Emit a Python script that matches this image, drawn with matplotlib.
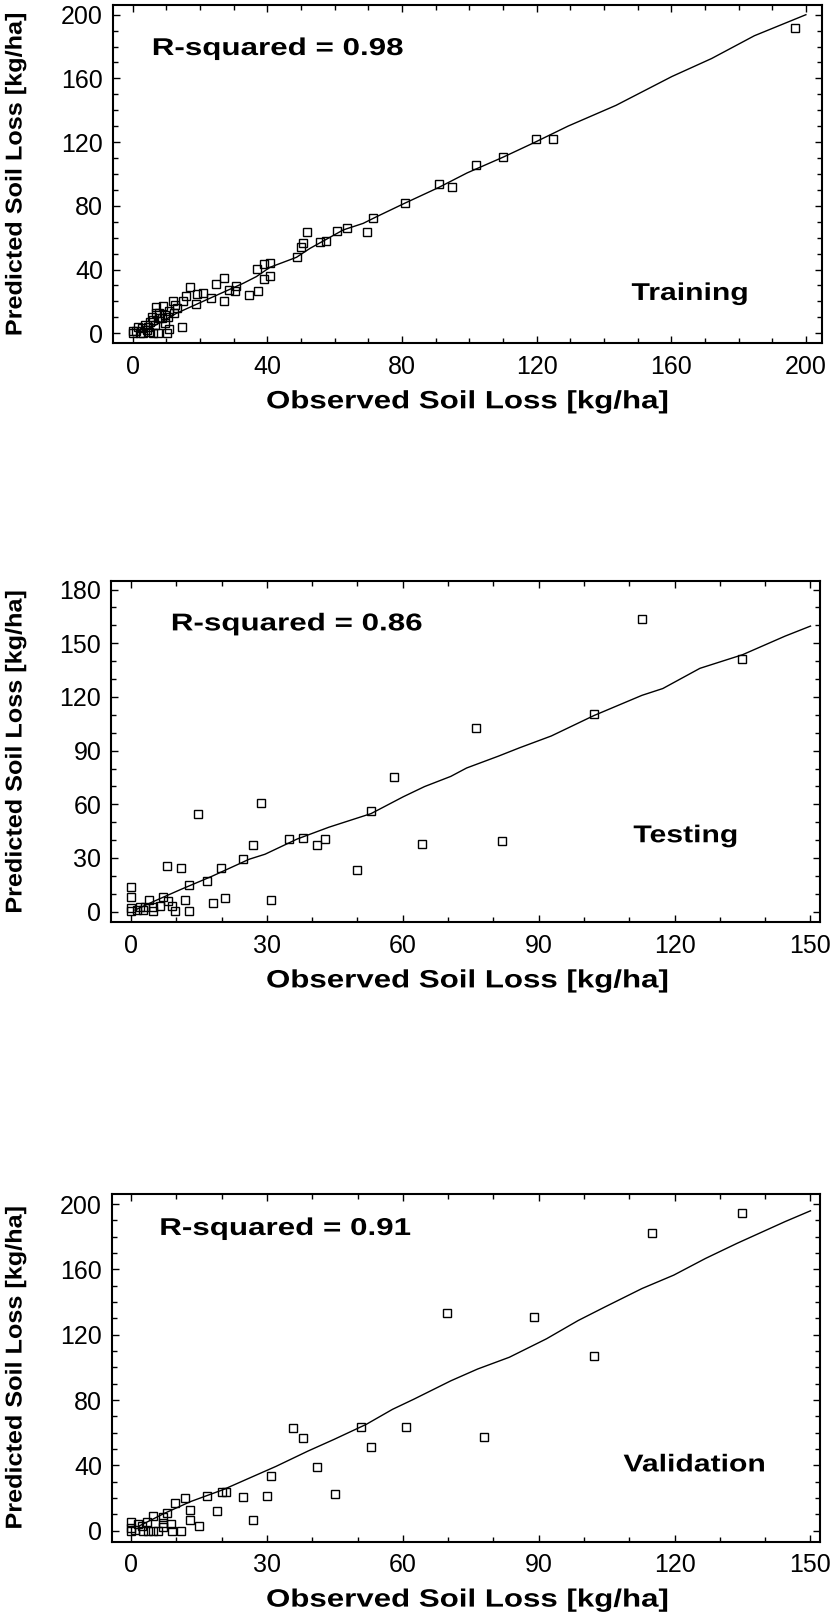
import matplotlib
matplotlib.use("Agg")
import matplotlib.pyplot as plt
from matplotlib.ticker import MultipleLocator
from matplotlib.patheffects import AbstractPathEffect
from matplotlib.transforms import Affine2D

# ---------------- data ----------------
# Training set: observed vs predicted soil loss [kg/ha]
train_obs = [196.8, 125.0, 119.7, 109.9, 102.1, 95.0, 90.9, 81.0, 71.5, 69.7,
             63.6, 60.6, 57.6, 55.6, 51.9, 50.7, 50.0, 48.9, 40.8, 39.0,
             37.0, 40.8, 39.0, 37.3, 34.7, 30.7, 30.4, 28.6, 27.2, 24.8,
             27.1, 23.2, 20.8, 19.2, 17.0, 18.8, 16.0, 14.9, 14.8, 13.1,
             11.9, 12.6, 10.9, 10.6, 10.9, 10.3, 8.9, 7.9, 7.1, 7.1,
             6.1, 5.1, 4.7, 7.6, 6.1, 2.7, 1.7, 1.0, 0.0, 0.0,
             3.7, 5.0, 3.2, 8.6, 9.5, 7.9, 5.9, 9.7, 2.2, 12.2,
             4.2, 6.6]
train_pred = [191.6, 122.1, 122.1, 110.8, 105.6, 91.9, 94.0, 81.6, 72.2, 63.8,
              66.3, 64.4, 57.9, 57.1, 63.4, 56.9, 54.0, 47.7, 43.9, 43.3,
              40.2, 36.2, 33.9, 26.6, 24.1, 29.7, 26.6, 27.2, 34.5, 31.0,
              20.5, 22.4, 25.1, 24.5, 28.9, 18.4, 23.4, 20.5, 3.8, 15.7,
              20.5, 17.8, 14.2, 10.5, 2.5, 0.0, 17.2, 13.0, 16.7, 12.6,
              8.4, 7.3, 4.2, 0.0, 0.0, 3.1, 4.2, 1.7, 0.0, 1.7,
              5.2, 1.0, 0.4, 9.4, 11.5, 9.4, 10.0, 6.3, 0.0, 12.9,
              2.0, 5.5]
train_fit_x = [5.1, 13.1, 23.0, 32.9, 36.8, 40.8, 48.7, 52.7, 62.6, 68.5, 72.5,
               80.4, 90.9, 99.4, 110.0, 119.2, 129.4, 143.6, 160.2, 172.0,
               184.7, 200.0]
train_fit_y = [3.1, 12.6, 22.0, 31.4, 35.6, 41.4, 47.7, 53.3, 64.9, 69.0, 73.2,
               81.2, 91.5, 100.7, 110.5, 119.6, 130.1, 143.1, 161.2, 172.5,
               186.8, 200.0]

# Testing set
test_obs = [112.8, 134.8, 102.2, 76.1, 58.0, 64.2, 81.9, 28.7, 14.9, 53.0,
            34.9, 37.9, 41.0, 42.9, 27.0, 24.8, 49.9, 8.0, 11.0, 19.9,
            16.9, 12.8, 0.0, 0.0, 7.1, 4.0, 12.0, 20.8, 30.9, 18.2,
            8.2, 9.0, 12.8, 9.7, 4.9, 6.4, 4.9, 3.2, 2.0, 1.3,
            0.0, 0.0, 2.7]
test_pred = [163.8, 141.1, 110.7, 102.9, 75.0, 37.8, 39.5, 60.6, 54.6, 56.5,
             40.4, 41.3, 37.4, 40.4, 37.0, 29.6, 23.1, 25.6, 24.6, 24.6,
             17.2, 14.8, 13.9, 8.0, 8.3, 6.5, 6.5, 7.4, 6.5, 5.0,
             5.9, 3.1, 0.5, 0.5, 0.5, 3.1, 2.8, 2.8, 2.4, 0.9,
             1.9, 0.5, 0.9]
test_fit_x = [0.9, 5.0, 10.9, 17.9, 26.1, 29.6, 36.7, 43.7, 53.0, 60.1, 64.8,
              70.6, 74.1, 81.1, 85.8, 92.8, 102.2, 112.8, 117.4, 125.6, 135.0,
              144.4, 150.0]
test_fit_y = [0.9, 5.7, 12.3, 19.8, 29.3, 32.1, 40.6, 47.2, 54.8, 64.2, 69.9,
              75.6, 80.3, 86.9, 91.6, 98.2, 109.6, 120.9, 124.7, 136.0, 143.6,
              154.0, 159.6]

# Validation set
valid_obs = [134.8, 114.9, 69.8, 88.9, 102.2, 77.9, 35.7, 37.9, 50.7, 60.7,
             53.0, 41.0, 30.9, 45.1, 30.0, 24.8, 16.7, 20.0, 20.9, 11.9,
             9.7, 18.9, 12.9, 27.0, 12.9, 15.0, 7.9, 4.9, 7.1, 3.6,
             7.1, 8.8, 9.0, 11.0, 0.0, 1.6, 2.4, 0.0, 0.0, 2.7,
             3.8, 4.9, 6.0, 0.9, 7.1]
valid_pred = [194.5, 182.3, 133.3, 130.6, 107.2, 57.3, 62.7, 56.9, 63.7, 63.7,
              51.4, 39.2, 33.5, 22.4, 21.4, 20.4, 21.4, 23.5, 23.5, 19.8,
              16.7, 12.2, 12.7, 6.5, 6.5, 2.9, 11.0, 9.2, 8.2, 5.5,
              4.5, 4.1, 0.0, 0.0, 5.5, 4.1, 2.9, 1.4, 0.0, 0.0,
              0.0, 0.0, 0.0, 0.4, 2.4]
valid_fit_x = [1.5, 7.4, 13.2, 20.3, 26.1, 32.0, 39.0, 44.8, 51.9, 57.7, 62.4,
               70.6, 76.5, 83.5, 91.7, 98.7, 104.6, 112.8, 119.8, 126.8, 133.8,
               144.4, 150.0]
valid_fit_y = [2.5, 10.7, 17.9, 25.1, 32.2, 39.4, 48.7, 55.9, 65.1, 74.3, 80.5,
               91.8, 99.0, 106.2, 117.5, 128.7, 137.0, 148.3, 156.5, 166.7, 176.0,
               189.3, 195.9]

panel_names = ["Training", "Testing", "Validation"]
r_squared = ["0.98", "0.86", "0.91"]
x_label = "Observed Soil Loss [kg/ha]"
y_label = "Predicted Soil Loss [kg/ha]"


# ---------------- styling helpers ----------------
class Widen(AbstractPathEffect):
    """Draw text glyphs stretched along the reading direction."""

    def __init__(self, factor):
        super().__init__()
        self._factor = factor

    def draw_path(self, renderer, gc, tpath, affine, rgbFace=None):
        renderer.draw_path(gc, tpath,
                           Affine2D().scale(self._factor, 1.0) + affine,
                           rgbFace)


plt.rcParams["font.family"] = ["Liberation Sans", "DejaVu Sans"]

W, H = 830, 1614
fig = plt.figure(figsize=(W / 100, H / 100), dpi=100)
fig.patch.set_facecolor("white")


def px_rect(left, top, right, bottom):
    return [left / W, 1 - bottom / H, (right - left) / W, (bottom - top) / H]


panels = [
    dict(rect=px_rect(112.7, 5.0, 821.7, 343.3), xlim=(-5.9, 204.7),
         ylim=(-6.3, 206.1), xmaj=40, ymaj=40,
         obs=train_obs, pred=train_pred, fx=train_fit_x, fy=train_fit_y,
         r2_at=(5.7, 174.7), name_at=(148.2, 20.9),
         xlab_base=408.3),
    dict(rect=px_rect(111.0, 581.0, 820.0, 922.4), xlim=(-4.4, 152.1),
         ylim=(-6.0, 184.8), xmaj=30, ymaj=30,
         obs=test_obs, pred=test_pred, fx=test_fit_x, fy=test_fit_y,
         r2_at=(8.8, 157.2), name_at=(110.9, 38.8),
         xlab_base=987.4),
    dict(rect=px_rect(111.7, 1193.5, 820.0, 1541.6), xlim=(-4.3, 152.1),
         ylim=(-6.7, 206.5), xmaj=30, ymaj=40,
         obs=valid_obs, pred=valid_pred, fx=valid_fit_x, fy=valid_fit_y,
         r2_at=(6.2, 181.1), name_at=(108.7, 36.3),
         xlab_base=1606.6),
]

for i, p in enumerate(panels):
    ax = fig.add_axes(p["rect"])
    ax.set_facecolor("white")
    ax.plot(p["fx"], p["fy"], color="black", lw=1.0, zorder=2)
    ax.plot(p["obs"], p["pred"], linestyle="none", marker="s", ms=6,
            mfc="none", mec="black", mew=1.0, zorder=3)
    ax.set_xlim(*p["xlim"])
    ax.set_ylim(*p["ylim"])
    ax.xaxis.set_major_locator(MultipleLocator(p["xmaj"]))
    ax.yaxis.set_major_locator(MultipleLocator(p["ymaj"]))
    ax.xaxis.set_minor_locator(MultipleLocator(10))
    ax.yaxis.set_minor_locator(MultipleLocator(10))
    ax.tick_params(which="both", direction="in", top=True, right=True,
                   width=1.0, color="black")
    ax.tick_params(which="major", length=5)
    ax.tick_params(which="minor", length=3.5)
    ax.tick_params(axis="x", which="major", labelsize=18, pad=8.5)
    ax.tick_params(axis="y", which="major", labelsize=18, pad=7)
    for s in ax.spines.values():
        s.set_linewidth(1.5)

    ax.text(p["r2_at"][0], p["r2_at"][1], "R-squared = " + r_squared[i],
            ha="left", va="baseline", fontsize=17.5, fontweight="bold",
            path_effects=[Widen(1.29)])
    ax.text(p["name_at"][0], p["name_at"][1], panel_names[i],
            ha="left", va="baseline", fontsize=17.5, fontweight="bold",
            path_effects=[Widen(1.24)])

    # axis titles
    fig.text(266 / W, 1 - p["xlab_base"] / H, x_label, ha="left",
             va="baseline", fontsize=18, fontweight="bold",
             path_effects=[Widen(1.25)])
    l, b, w, h = p["rect"]
    centre_px = (1 - (b + h / 2)) * H
    fig.text(15 / W, 1 - (centre_px + 162) / H, y_label, rotation=90,
             ha="center", va="bottom", fontsize=16.5, fontweight="bold",
             path_effects=[Widen(1.1)])

fig.savefig("out.png", dpi=100, facecolor="white")
